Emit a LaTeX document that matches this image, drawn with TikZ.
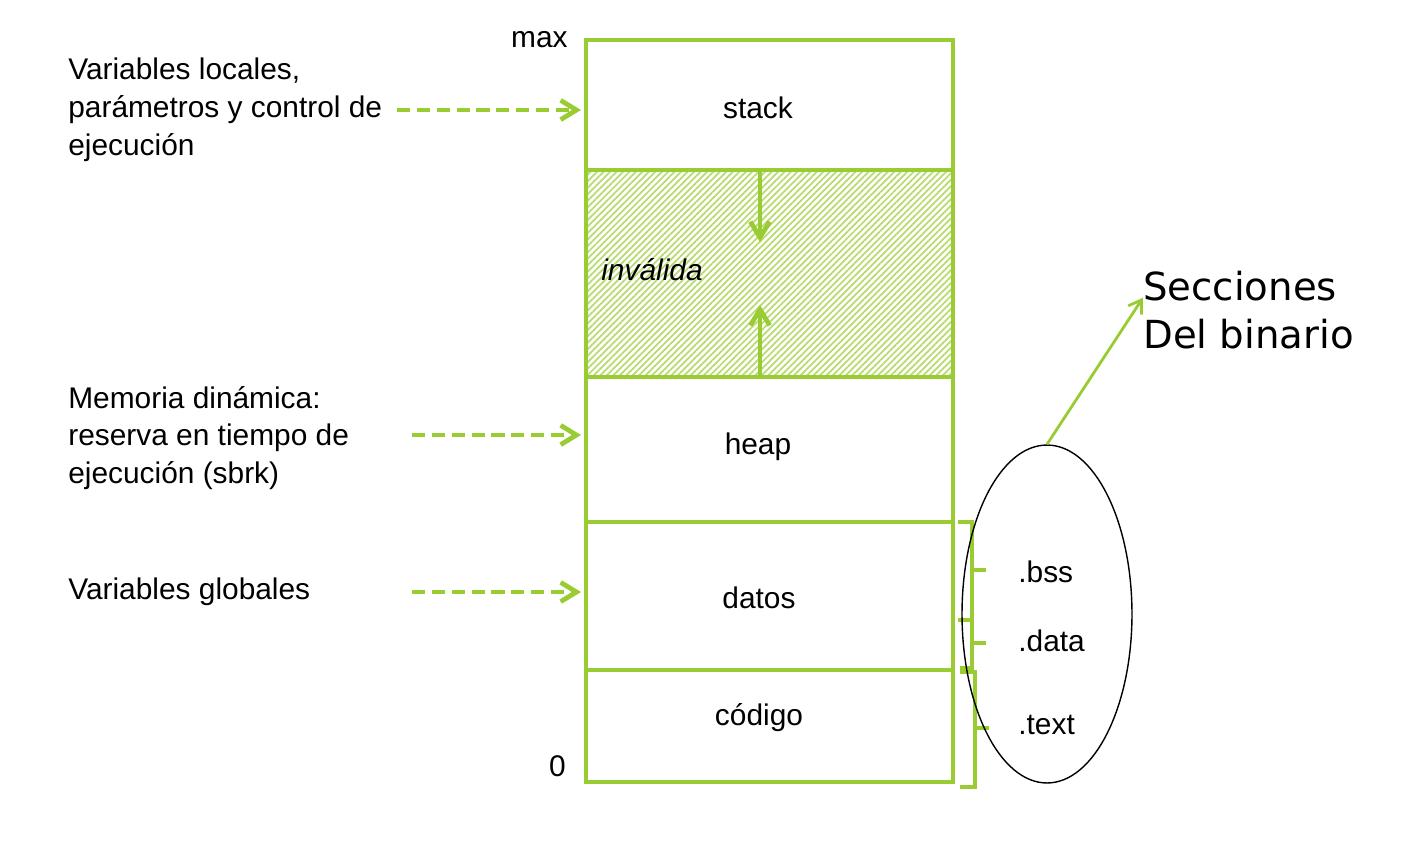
\documentclass[tikz,border=0pt]{standalone}
\usepackage{fontspec}
\setmainfont{Liberation Sans}
\newfontfamily\dejavu{DejaVu Sans}
\usetikzlibrary{arrows.meta, positioning, patterns.meta, shapes.geometric}
\definecolor{lgreen}{RGB}{153,204,51}
\tikzset{>={Straight Barb[length=9pt,width=11pt]},
  seg/.style={draw=lgreen, line width=2.7pt},
  lbl/.style={font=\fontsize{17}{21.5}\selectfont, inner sep=0pt},
  note/.style={lbl, align=left, anchor=west},
  feed/.style={->, draw=lgreen, line width=2.7pt, dash pattern=on 7.5pt off 3.8pt},
  growarrow/.style={->, draw=lgreen, line width=2.7pt},
  brk/.style={draw=lgreen, line width=2.3pt},
}

\begin{document}
\begin{tikzpicture}[x=0.02cm, y=-0.02cm]
    \useasboundingbox (0,0) rectangle (1414,840);

    % free area between stack and heap
    \fill[pattern={Lines[angle=45,distance=2.6pt,line width=1pt]}, pattern color=lgreen!70]
        (586,170) rectangle (953,377);

    % memory column
    \draw[seg] (586,40) rectangle (953,782);
    \foreach \y in {170,377,522,670}
        \draw[seg] (586,\y) -- (953,\y);

    \node[lbl] (stack) at (758,108) {stack};
    \node[lbl] (heap) at (758,447) {heap};
    \node[lbl] (datos) at (759,598) {datos};
    \node[lbl] (codigo) at (759,718) {código};
    \node[lbl, anchor=west, font=\fontsize{17}{21.5}\selectfont\itshape] (inv) at (601,270) {inválida};
    \node[lbl, anchor=east] (max) at (568,40) {max};
    \node[lbl, anchor=east] (zero) at (566,766) {0};

    % growth of stack and heap
    \coordinate (stkbot) at (760,170);
    \coordinate (heaptop) at (760,377);
    \draw[growarrow] (stkbot) -- ++(0,72);
    \draw[growarrow] (heaptop) -- ++(0,-72);

    % notes on the left
    \coordinate (colL) at (581,0);
    \node[note] (locals) at (68,110) {Variables locales,\\parámetros y control de\\ejecución};
    \node[note] (dyn) at (68,438) {Memoria dinámica:\\reserva en tiempo de\\ejecución (sbrk)};
    \node[note] (globals) at (68,592) {Variables globales};
    \coordinate (locfrom) at (397,110);
    \coordinate (dynfrom) at (412,435);
    \coordinate (globfrom) at (412,592);

    \draw[feed] (locfrom) -- (locfrom -| colL);
    \draw[feed] (dynfrom) -- (dynfrom -| colL);
    \draw[feed] (globfrom) -- (globfrom -| colL);

    % sections of the binary
    \draw[brk] (958,522) -- (972,522) -- (972,620) -- (958,620);
    \draw[brk] (972,570) -- (986,570);
    \draw[brk] (960,620) -- (972,620) -- (972,668) -- (960,668);
    \draw[brk] (972,643) -- (986,643);
    \draw[brk] (960,672) -- (975,672) -- (975,787) -- (960,787);
    \draw[brk] (975,728) -- (989,728);

    \node[draw, ellipse, line width=0.8pt, minimum width=3.4cm, minimum height=6.76cm, inner sep=0pt] (bin) at (1047,614) {};
    \node[lbl, anchor=west] (bss) at (1018,572) {.bss};
    \node[lbl, anchor=west] (data) at (1018,641) {.data};
    \node[lbl, anchor=west] (text) at (1018,725) {.text};

    \node[anchor=west, align=left, inner sep=0pt, font=\dejavu\fontsize{22}{27}\selectfont] (secc) at (1143,310) {Secciones\\Del binario};
    \draw[->, lgreen, line width=1.6pt, >={Straight Barb[length=7pt,width=9pt]}]
        (bin.north) -- ([yshift=7pt]secc.west);
\end{tikzpicture}
\end{document}
